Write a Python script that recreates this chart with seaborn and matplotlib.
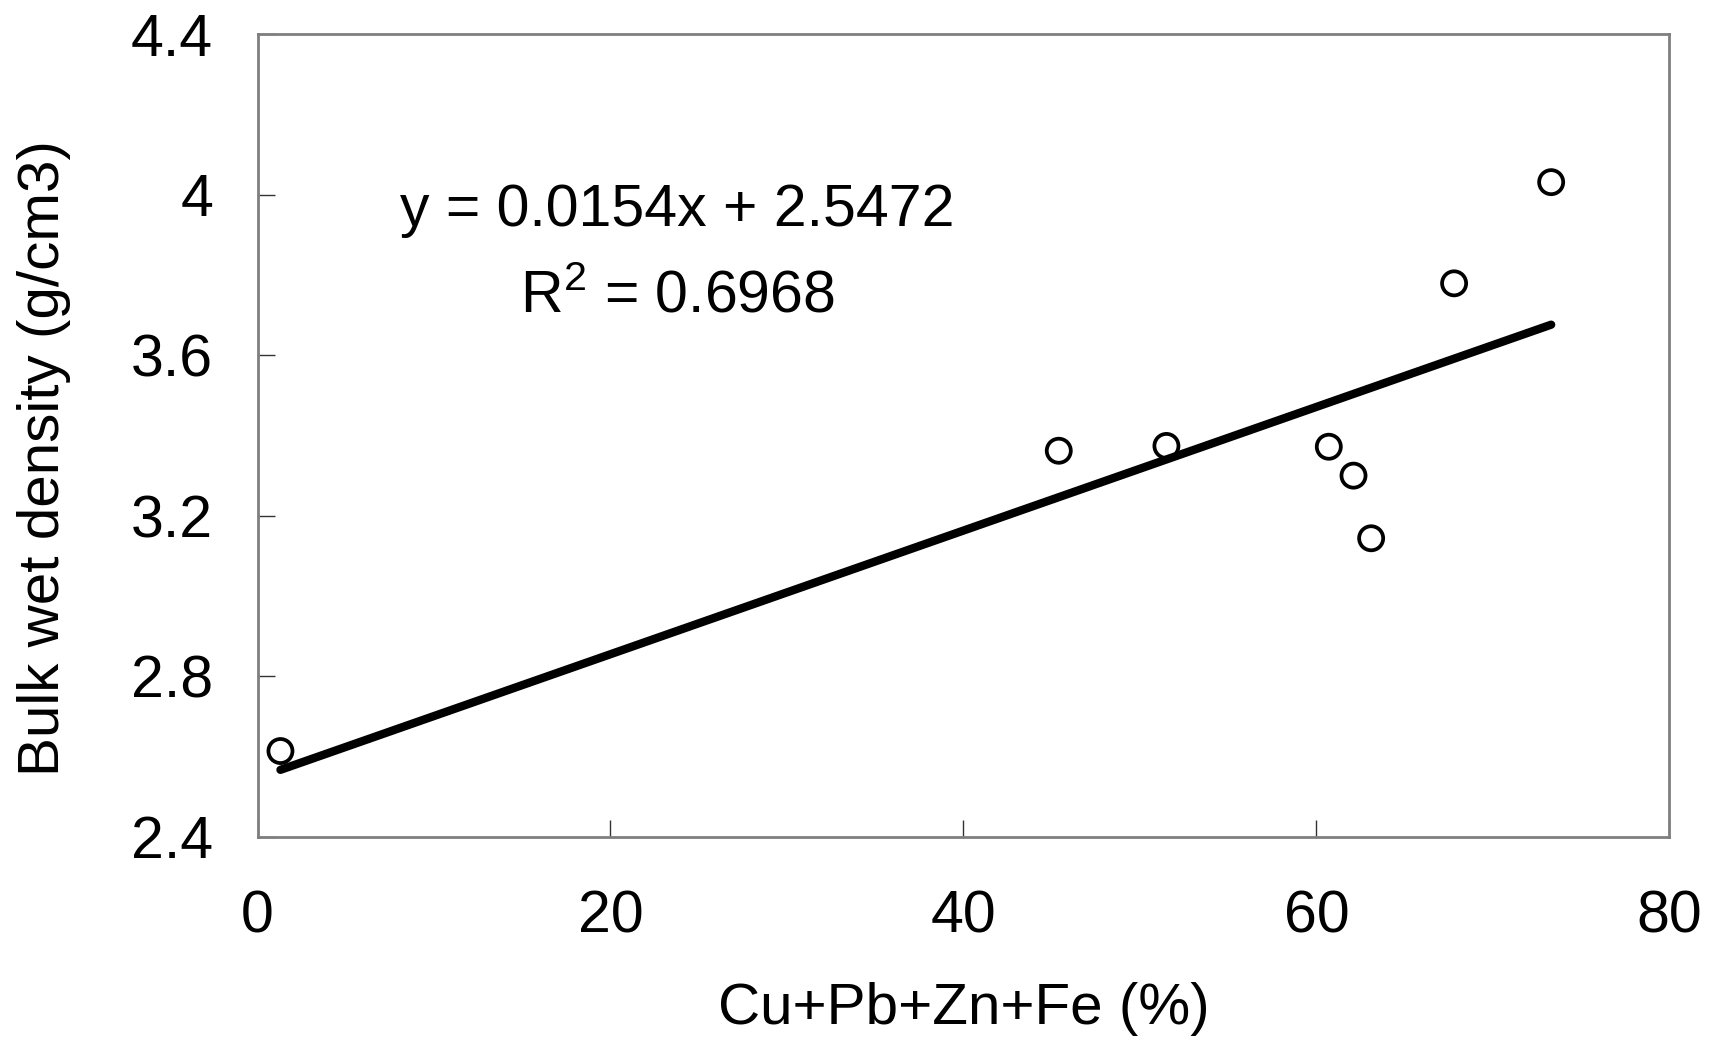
import numpy as np
import pandas as pd
import matplotlib
matplotlib.use("Agg")
import matplotlib.pyplot as plt
import seaborn as sns

# metal content (%) vs bulk wet density (g/cm3)
metal_pct = [1.3, 45.4, 51.5, 60.7, 62.1, 63.1, 67.8, 73.3]
density = [2.614, 3.362, 3.374, 3.372, 3.300, 3.144, 3.779, 4.031]

# trend line as printed on the chart
slope = 0.0154
intercept = 2.5472
r_squared = 0.6968

x_ticks = [0, 20, 40, 60, 80]
y_ticks = [2.4, 2.8, 3.2, 3.6, 4.0, 4.4]
y_ticklabels = ["2.4", "2.8", "3.2", "3.6", "4", "4.4"]

sns.set_theme(style="white")
plt.rcParams["font.family"] = ["Liberation Sans", "DejaVu Sans"]
plt.rcParams["mathtext.fontset"] = "custom"
plt.rcParams["mathtext.rm"] = "Liberation Sans"
plt.rcParams["mathtext.it"] = "Liberation Sans"
plt.rcParams["text.color"] = "black"
plt.rcParams["axes.labelcolor"] = "black"

df = pd.DataFrame({"metal": metal_pct, "density": density})
x_fit = np.array([df["metal"].min(), df["metal"].max()])
fit = pd.DataFrame({"metal": x_fit, "density": slope * x_fit + intercept})

fig = plt.figure(figsize=(17.11, 10.37), dpi=100)
ax = fig.add_axes([0.1505, 0.1929, 0.8252, 0.7743])

sns.lineplot(data=fit, x="metal", y="density", ax=ax, color="black",
             linewidth=6, solid_capstyle="round")
sns.scatterplot(data=df, x="metal", y="density", ax=ax, marker="o", s=300,
                facecolor="none", edgecolor="black", linewidth=2.7, zorder=3)

ax.set_xlim(0, 80)
ax.set_ylim(2.4, 4.4)
ax.set_xticks(x_ticks)
ax.set_yticks(y_ticks)
ax.set_yticklabels(y_ticklabels)
ax.tick_params(axis="both", direction="in", length=12, width=1, color="#333333",
               labelsize=42.5, labelcolor="black", bottom=True, left=True)
ax.tick_params(axis="x", pad=38)
ax.tick_params(axis="y", pad=32)

for side in ["left", "bottom", "top", "right"]:
    ax.spines[side].set_color("#7f7f7f")
    ax.spines[side].set_linewidth(2)

ax.set_xlabel("Cu+Pb+Zn+Fe (%)", fontsize=42, labelpad=27)
ax.set_ylabel("Bulk wet density (g/cm3)", fontsize=42)
ax.yaxis.set_label_coords(-0.132, 0.472)

ax.text(23.8, 3.96, f"y = {slope}x + {intercept}", fontsize=42.5,
        ha="center", va="center")
ax.text(23.8, 3.745, f"R$^2$ = {r_squared}", fontsize=42.5,
        ha="center", va="center")

fig.savefig("out.png", dpi=100)
